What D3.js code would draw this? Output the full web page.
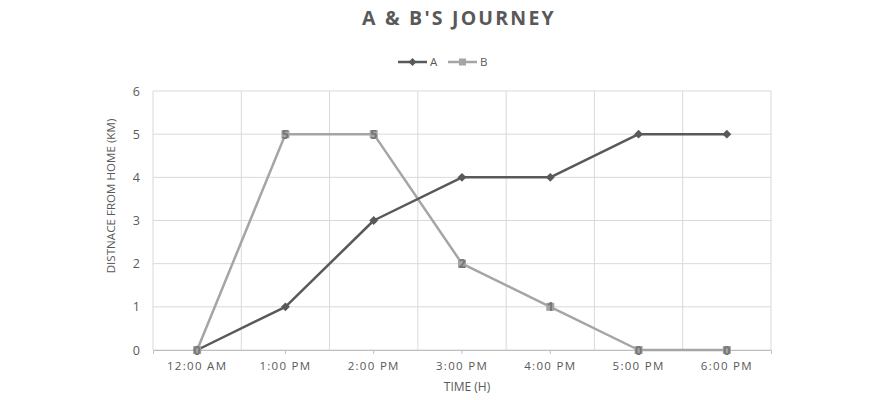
<!DOCTYPE html>
<html><head><meta charset="utf-8">
<script src="https://cdn.jsdelivr.net/npm/d3@7/dist/d3.min.js"></script>
<style>body{margin:0;background:#fff;}svg{display:block;font-family:"Open Sans",sans-serif;}</style>
</head><body>
<svg id="c" width="870" height="400"></svg>
<script>
const categories = ["12:00 AM","1:00 PM","2:00 PM","3:00 PM","4:00 PM","5:00 PM","6:00 PM"];
const seriesA = [0,1,3,4,4,5,5];
const seriesB = [0,5,5,2,1,0,0];
const yTicks = [0,1,2,3,4,5,6];
const title = "A & B'S JOURNEY";
const xTitle = "TIME (H)";
const yTitle = "DISTNACE FROM HOME (KM)";

const svg = d3.select("#c");
const L = 153, R = 771, T = 91, B = 350;
const x = d3.scaleBand().domain(categories).range([L, R]);
const y = d3.scaleLinear().domain([0, 6]).range([B, T]);
const cx = d => x(d) + x.bandwidth() / 2;

// gridlines
const g = svg.append("g");
g.selectAll("line.h").data(yTicks).join("line")
  .attr("x1", L).attr("x2", R).attr("y1", d => y(d)).attr("y2", d => y(d))
  .attr("stroke", "#d9d9d9").attr("stroke-width", 1);
const bounds = categories.map(c => x(c)).concat([R]);
g.selectAll("line.v").data(bounds).join("line")
  .attr("x1", d => d).attr("x2", d => d).attr("y1", T).attr("y2", B)
  .attr("stroke", "#d9d9d9").attr("stroke-width", 1);

// x axis
const xa = svg.append("g").attr("transform", `translate(0,${B})`)
  .call(d3.axisBottom(x).tickSize(4).tickPadding(8));
xa.select(".domain").attr("stroke", "#bfbfbf");
xa.selectAll(".tick line").attr("stroke", "#bfbfbf");
xa.selectAll("text").attr("fill", "#595959").style("font-size", "11.5px")
  .style("letter-spacing", "1.3px").style("font-family", "Open Sans");

// y axis
const ya = svg.append("g").attr("transform", `translate(${L},0)`)
  .call(d3.axisLeft(y).tickValues(yTicks).tickFormat(d3.format("d")).tickSize(0).tickPadding(13));
ya.select(".domain").remove();
ya.selectAll("text").attr("fill", "#595959").style("font-size", "12.5px").style("font-family", "Open Sans");

// titles
svg.append("text").attr("x", 459).attr("y", 25).attr("text-anchor", "middle")
  .attr("fill", "#595959").style("font-size", "19.5px").style("font-weight", "bold")
  .style("letter-spacing", "2.2px").text(title);
svg.append("text").attr("x", 467).attr("y", 391).attr("text-anchor", "middle")
  .attr("fill", "#595959").style("font-size", "12px").text(xTitle);
svg.append("text").attr("transform", "translate(115,196) rotate(-90)").attr("text-anchor", "middle")
  .attr("fill", "#595959").style("font-size", "11.6px").text(yTitle);

const line = d3.line().x((d, i) => cx(categories[i])).y(d => y(d));
// series B
svg.append("path").datum(seriesB).attr("d", line).attr("fill", "none")
  .attr("stroke", "#a5a5a5").attr("stroke-width", 2.5).attr("stroke-linejoin", "round");
// series A
svg.append("path").datum(seriesA).attr("d", line).attr("fill", "none")
  .attr("stroke", "#595959").attr("stroke-width", 2.5).attr("stroke-linejoin", "round");

// A markers (diamonds)
svg.selectAll("path.mA").data(seriesA).join("path")
  .attr("d", d3.symbol(d3.symbolDiamond2, 50))
  .attr("transform", (d, i) => `translate(${cx(categories[i])},${y(d)})`)
  .attr("fill", "#595959");
// B markers (squares) + labels
svg.selectAll("rect.mB").data(seriesB).join("rect")
  .attr("x", (d, i) => cx(categories[i]) - 4).attr("y", d => y(d) - 4)
  .attr("width", 8).attr("height", 8).attr("fill", "#a5a5a5");
svg.selectAll("text.lB").data(seriesB).join("text")
  .attr("x", (d, i) => cx(categories[i])).attr("y", d => y(d) + 4.5)
  .attr("text-anchor", "middle").attr("fill", "#757575")
  .style("font-size", "12.5px").style("font-weight", "bold").text(d => d);

// legend
const lg = svg.append("g");
lg.append("line").attr("x1", 398).attr("x2", 427).attr("y1", 62).attr("y2", 62)
  .attr("stroke", "#595959").attr("stroke-width", 2.5);
lg.append("path").attr("d", d3.symbol(d3.symbolDiamond2, 40)).attr("transform", "translate(412.5,62)").attr("fill", "#595959");
lg.append("text").attr("x", 430).attr("y", 66).attr("fill", "#595959").style("font-size", "11.5px").text("A");
lg.append("line").attr("x1", 448).attr("x2", 477).attr("y1", 62).attr("y2", 62)
  .attr("stroke", "#a5a5a5").attr("stroke-width", 2.5);
lg.append("rect").attr("x", 459).attr("y", 58.5).attr("width", 7).attr("height", 7).attr("fill", "#a5a5a5");
lg.append("text").attr("x", 480).attr("y", 66).attr("fill", "#595959").style("font-size", "11.5px").text("B");
</script>
</body></html>
